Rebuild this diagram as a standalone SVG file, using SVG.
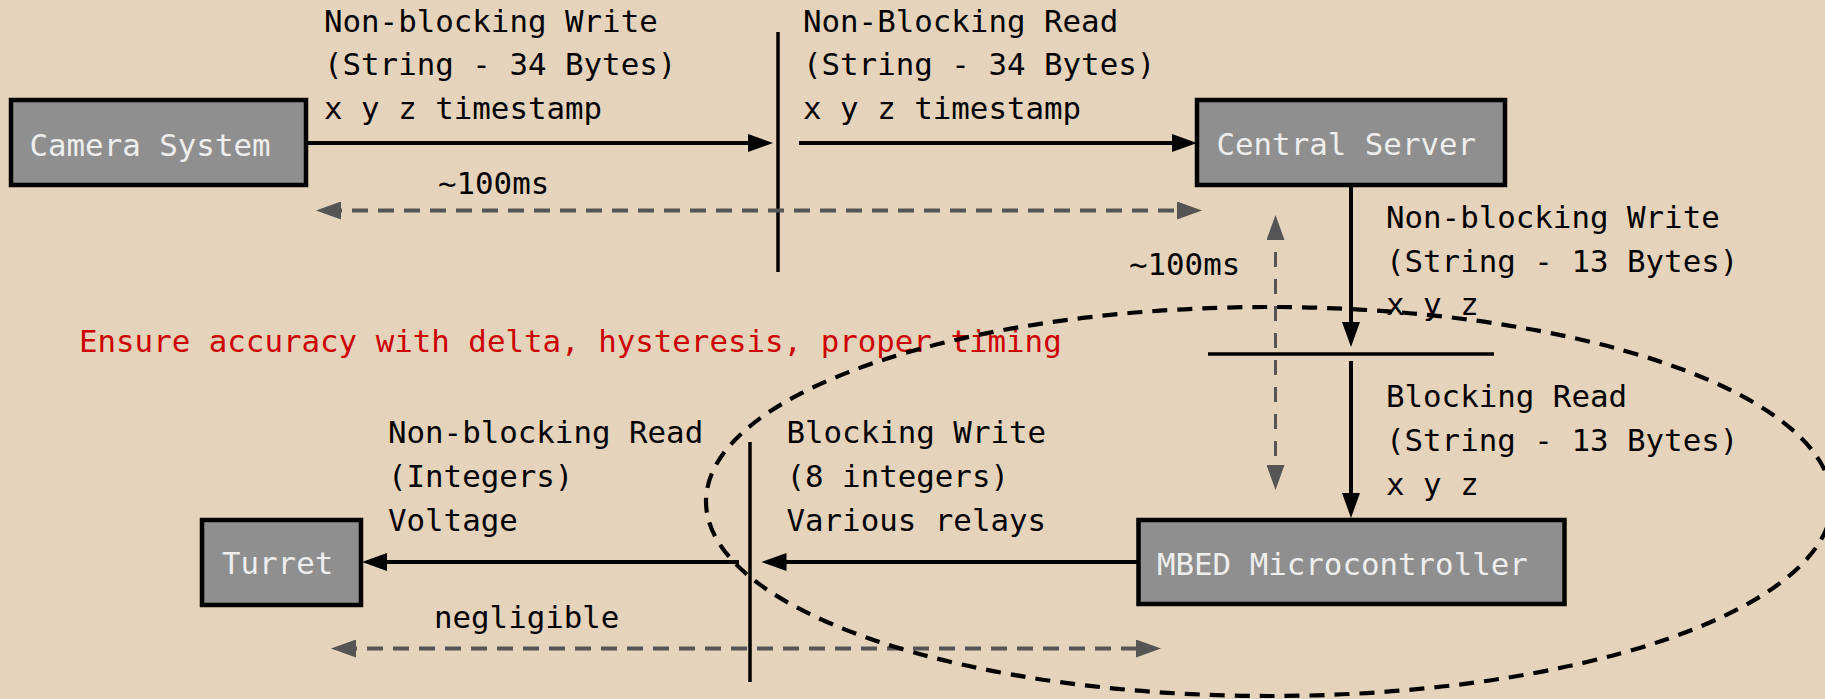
<svg xmlns="http://www.w3.org/2000/svg" width="1825" height="699" viewBox="0 0 1825 699">
  <style>
    text { font-family: "DejaVu Sans Mono", "Liberation Mono", monospace; font-size: 30.8px; }
    .label { fill: #000; }
    .node rect { fill: #8f8f8f; stroke: #000; stroke-width: 4.5; }
    .node text { fill: #eeeeee; }
    .note { fill: #cc0000; }
    .flow { stroke: #000; stroke-width: 4; fill: none; }
    .bar { stroke: #000; stroke-width: 3.5; fill: none; }
    .timing { stroke: #555; stroke-width: 4; stroke-dasharray: 16 10; fill: none; }
    .timing-v { stroke: #555; stroke-width: 3; stroke-dasharray: 15 12; fill: none; }
    .scope { stroke: #000; stroke-width: 4.2; stroke-dasharray: 15 10; fill: none; }
  </style>
  <defs>
    <marker id="arrow" viewBox="0 0 25 18" markerUnits="userSpaceOnUse" markerWidth="25" markerHeight="18" refX="15" refY="9" orient="auto">
      <path d="M0,0 L25,9 L0,18 Z" fill="#000"/>
    </marker>
    <marker id="arrow-grey" viewBox="0 0 25 18" markerUnits="userSpaceOnUse" markerWidth="25" markerHeight="18" refX="15" refY="9" orient="auto-start-reverse">
      <path d="M0,0 L25,9 L0,18 Z" fill="#555"/>
    </marker>
  </defs>

  <rect x="0" y="0" width="1825" height="699" fill="#e5d4bb"/>

  <!-- nodes -->
  <g id="camera-system" class="node">
    <rect x="11" y="100" width="295" height="85"/>
    <text x="29.5" y="156">Camera System</text>
  </g>
  <g id="central-server" class="node">
    <rect x="1197" y="100" width="308" height="85"/>
    <text x="1216.5" y="155">Central Server</text>
  </g>
  <g id="mbed-microcontroller" class="node">
    <rect x="1138.5" y="520" width="426" height="84"/>
    <text x="1157" y="575">MBED Microcontroller</text>
  </g>
  <g id="turret" class="node">
    <rect x="202" y="520" width="159" height="85"/>
    <text x="222" y="574">Turret</text>
  </g>

  <!-- interface boundaries -->
  <g id="boundaries">
    <line class="bar" x1="778" y1="32" x2="778" y2="272"/>
    <line class="bar" x1="1208" y1="354" x2="1494" y2="354"/>
    <line class="bar" x1="750" y1="442" x2="750" y2="682"/>
  </g>

  <!-- connectors -->
  <g id="connectors">
    <line class="flow" x1="306" y1="143" x2="763" y2="143" marker-end="url(#arrow)"/>
    <line class="flow" x1="799" y1="143" x2="1187" y2="143" marker-end="url(#arrow)"/>
    <line class="flow" x1="1351" y1="185" x2="1351" y2="337" marker-end="url(#arrow)"/>
    <line class="flow" x1="1351" y1="361" x2="1351" y2="508" marker-end="url(#arrow)"/>
    <line class="flow" x1="1138" y1="562" x2="771.5" y2="562" marker-end="url(#arrow)"/>
    <line class="flow" x1="739" y1="562" x2="372" y2="562" marker-end="url(#arrow)"/>

    <line class="timing" x1="326" y1="210.5" x2="1192" y2="210.5" marker-start="url(#arrow-grey)" marker-end="url(#arrow-grey)"/>
    <line class="timing-v" x1="1275.5" y1="225" x2="1275.5" y2="480" marker-start="url(#arrow-grey)" marker-end="url(#arrow-grey)"/>
    <line class="timing" x1="341" y1="648.5" x2="1151" y2="648.5" marker-start="url(#arrow-grey)" marker-end="url(#arrow-grey)"/>
  </g>

  <!-- labels -->
  <g id="labels" class="label">
    <text x="324" y="32">Non-blocking Write</text>
    <text x="324" y="75">(String - 34 Bytes)</text>
    <text x="324" y="119">x y z timestamp</text>

    <text x="803" y="32">Non-Blocking Read</text>
    <text x="803" y="75">(String - 34 Bytes)</text>
    <text x="803" y="119">x y z timestamp</text>

    <text x="438" y="194">~100ms</text>
    <text x="1129" y="275">~100ms</text>

    <text x="1386" y="228">Non-blocking Write</text>
    <text x="1386" y="271.5">(String - 13 Bytes)</text>
    <text x="1386" y="315">x y z</text>

    <text x="1386" y="407">Blocking Read</text>
    <text x="1386" y="451">(String - 13 Bytes)</text>
    <text x="1386" y="495">x y z</text>

    <text x="388" y="443">Non-blocking Read</text>
    <text x="388" y="487">(Integers)</text>
    <text x="388" y="531">Voltage</text>

    <text x="786.5" y="443">Blocking Write</text>
    <text x="786.5" y="487">(8 integers)</text>
    <text x="786.5" y="531">Various relays</text>

    <text x="434" y="628">negligible</text>
  </g>

  <text id="accuracy-note" class="note" x="79" y="352">Ensure accuracy with delta, hysteresis, proper timing</text>

  <!-- dashed scope around the microcontroller side -->
  <ellipse id="scope" class="scope" cx="1269" cy="501.5" rx="563" ry="194.5"/>
</svg>
